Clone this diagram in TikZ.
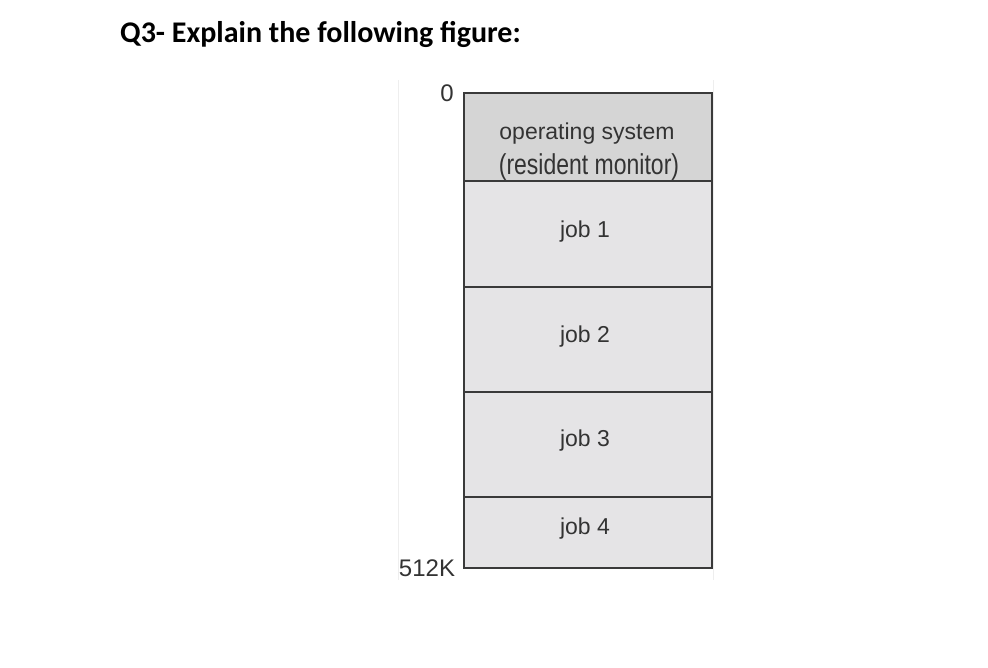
\documentclass[tikz,border=0pt]{standalone}
\usepackage{fontspec}
\setmainfont{Liberation Sans}
\newfontfamily\titlefont{Carlito}
\definecolor{osfill}{HTML}{D5D5D5}
\definecolor{jobfill}{HTML}{E5E4E6}
\definecolor{edge}{HTML}{3A3A3A}
\definecolor{txt}{HTML}{333333}
\definecolor{faint}{HTML}{EEEEEE}
\tikzset{
  seg/.style={draw=edge, line width=1.6pt},
  lbl/.style={text=txt, font=\fontsize{23}{26}\selectfont, inner sep=0pt},
  addr/.style={text=txt, font=\fontsize{24}{26}\selectfont, inner sep=0pt},
}
\begin{document}
\begin{tikzpicture}[x=1pt,y=-1pt]
\useasboundingbox[fill=white] (0,0) rectangle (988,667);
% faint scan lines
\draw[faint, line width=1pt] (398,80) -- (398,580);
\draw[faint, line width=1pt] (713,80) -- (713,580);
% title
\node[anchor=base west, inner sep=0pt, font=\titlefont\bfseries\fontsize{30}{32}\selectfont] (title) at (120,42) {Q3- Explain the following figure:};
% memory blocks
\node[seg, fill=osfill, minimum width=248pt, minimum height=88pt, inner sep=0pt, anchor=north west] (os) at (463,92) {};
\node[seg, fill=jobfill, minimum width=248pt, minimum height=106pt, inner sep=0pt, anchor=north west] (j1) at (463,180) {};
\node[seg, fill=jobfill, minimum width=248pt, minimum height=105pt, inner sep=0pt, anchor=north west] (j2) at (463,286) {};
\node[seg, fill=jobfill, minimum width=248pt, minimum height=105pt, inner sep=0pt, anchor=north west] (j3) at (463,391) {};
\node[seg, fill=jobfill, minimum width=248pt, minimum height=71pt, inner sep=0pt, anchor=north west] (j4) at (463,496) {};
% labels
\node[lbl] (ost1) at (587,134) {operating system};
\node[lbl] (ost2) at (589,167) {\scalebox{1.0}[1.25]{(resident monitor)}};
\node[lbl] (jt1) at (585,232) {job 1};
\node[lbl] (jt2) at (585,337) {job 2};
\node[lbl] (jt3) at (585,441) {job 3};
\node[lbl] (jt4) at (585,529) {job 4};
% addresses
\node[addr] (a0) at (447,93) {0};
\node[addr] (a512) at (427,568) {512K};
\end{tikzpicture}
\end{document}
